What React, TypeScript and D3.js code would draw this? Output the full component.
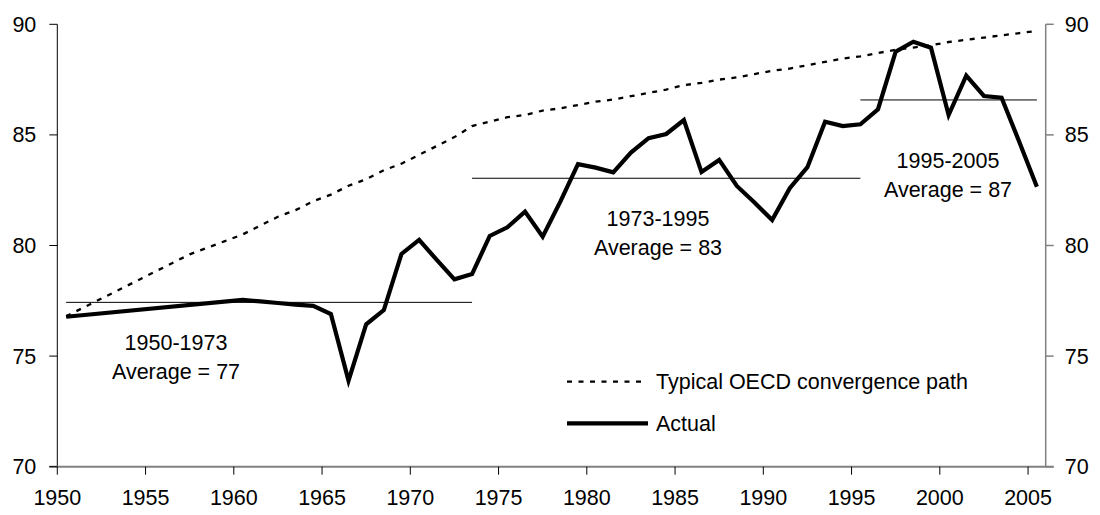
import React from "react";
import * as d3 from "d3";

const actualYears = [1950, 1960, 1961, 1962, 1963, 1964, 1965, 1966, 1967, 1968, 1969, 1970, 1971, 1972, 1973, 1974, 1975, 1976, 1977, 1978, 1979, 1980, 1981, 1982, 1983, 1984, 1985, 1986, 1987, 1988, 1989, 1990, 1991, 1992, 1993, 1994, 1995, 1996, 1997, 1998, 1999, 2000, 2001, 2002, 2003, 2004, 2005];
const actualValues = [76.78, 77.54, 77.47, 77.4, 77.33, 77.27, 76.9, 73.89, 76.44, 77.08, 79.62, 80.25, 79.35, 78.47, 78.71, 80.43, 80.82, 81.53, 80.4, 81.98, 83.68, 83.52, 83.31, 84.2, 84.85, 85.04, 85.67, 83.32, 83.87, 82.69, 81.94, 81.15, 82.59, 83.54, 85.6, 85.4, 85.48, 86.16, 88.76, 89.21, 88.94, 85.9, 87.68, 86.76, 86.68, 84.69, 82.66];

const oecdYears = [1950, 1951, 1952, 1953, 1954, 1955, 1956, 1957, 1958, 1959, 1960, 1961, 1962, 1963, 1964, 1965, 1966, 1967, 1968, 1969, 1970, 1971, 1972, 1973, 1974, 1975, 1976, 1977, 1978, 1979, 1980, 1981, 1982, 1983, 1984, 1985, 1986, 1987, 1988, 1989, 1990, 1991, 1992, 1993, 1994, 1995, 1996, 1997, 1998, 1999, 2000, 2001, 2002, 2003, 2004, 2005];
const oecdValues = [76.8, 77.2, 77.6, 78.0, 78.4, 78.8, 79.2, 79.6, 79.9, 80.2, 80.5, 80.9, 81.3, 81.6, 82.0, 82.3, 82.7, 83.0, 83.4, 83.7, 84.1, 84.5, 84.9, 85.4, 85.6, 85.8, 85.9, 86.1, 86.2, 86.35, 86.5, 86.6, 86.75, 86.9, 87.05, 87.25, 87.35, 87.5, 87.6, 87.75, 87.9, 88.0, 88.15, 88.3, 88.45, 88.55, 88.7, 88.85, 88.95, 89.05, 89.2, 89.3, 89.4, 89.5, 89.6, 89.7];

const periodStart = [1950, 1973, 1995];
const periodEnd = [1973, 1995, 2005];
const periodAverage = [77.43, 83.04, 86.58];
const periodLabel = ["1950-1973", "1973-1995", "1995-2005"];
const averageLabel = ["Average = 77", "Average = 83", "Average = 87"];

const xTicks = [1950, 1955, 1960, 1965, 1970, 1975, 1980, 1985, 1990, 1995, 2000, 2005];
const yTicks = [70, 75, 80, 85, 90];

const legendLabels = ["Typical OECD convergence path", "Actual"];

const W = 1100;
const H = 515;
const FONT = "'Liberation Sans', Arial, sans-serif";
const FS = 21.5;
const TFS = 21.5;

export default function App() {
  const x = d3.scaleLinear().domain([1950, 2006]).range([57.3, 1045.7]);
  const y = d3.scaleLinear().domain([70, 90]).range([466.7, 24.3]);
  const px = (yr: number) => x(yr + 0.5);

  const actualLine = d3
    .line<number>()
    .x((_, i) => px(actualYears[i]))
    .y((v) => y(v))(actualValues) as string;
  const oecdLine = d3
    .line<number>()
    .x((_, i) => px(oecdYears[i]))
    .y((v) => y(v))(oecdValues) as string;

  const left = x(1950);
  const right = x(2006);
  const bottom = y(70);
  const top = y(90);

  const labelPos = [
    { cx: 176, y1: 350 },
    { cx: 658, y1: 226 },
    { cx: 948, y1: 168 },
  ];

  return (
    <svg
      width={W}
      height={H}
      style={{ position: "absolute", left: 0, top: 0, background: "#fff" }}
      fontFamily={FONT}
    >
      {/* average lines */}
      {periodAverage.map((v, i) => (
        <line
          key={"avg" + i}
          x1={px(periodStart[i])}
          x2={px(periodEnd[i])}
          y1={y(v)}
          y2={y(v)}
          stroke="#000"
          strokeWidth={1}
        />
      ))}
      {/* OECD dashed */}
      <path d={oecdLine} fill="none" stroke="#000" strokeWidth={2.3} strokeDasharray="5,6.5" />
      {/* actual */}
      <path d={actualLine} fill="none" stroke="#000" strokeWidth={4.2} strokeLinejoin="miter" />

      {/* axes */}
      <line x1={left} x2={left} y1={top} y2={bottom} stroke="#000" strokeWidth={1} />
      <line x1={right} x2={right} y1={top} y2={bottom} stroke="#808080" strokeWidth={1.5} />
      <line x1={left - 8} x2={right + 8} y1={bottom} y2={bottom} stroke="#808080" strokeWidth={2} />
      {yTicks.map((t) => (
        <g key={"yt" + t}>
          <line x1={left - 8} x2={left} y1={y(t)} y2={y(t)} stroke="#000" strokeWidth={1} />
          <line x1={right} x2={right + 8} y1={y(t)} y2={y(t)} stroke="#808080" strokeWidth={1.5} />
          <text x={left - 21} y={y(t)} dy="0.35em" textAnchor="end" fontSize={TFS} fill="#000">
            {t}
          </text>
          <text x={right + 19} y={y(t)} dy="0.35em" textAnchor="start" fontSize={TFS} fill="#000">
            {t}
          </text>
        </g>
      ))}
      {xTicks.map((t) => (
        <g key={"xt" + t}>
          <line x1={x(t)} x2={x(t)} y1={bottom} y2={bottom + 8} stroke="#000" strokeWidth={1} />
          <text x={x(t)} y={bottom + 38} textAnchor="middle" fontSize={TFS} fill="#000">
            {t}
          </text>
        </g>
      ))}

      {/* period labels */}
      {labelPos.map((p, i) => (
        <g key={"lbl" + i}>
          <text x={p.cx} y={p.y1} textAnchor="middle" fontSize={FS} fill="#000">
            {periodLabel[i]}
          </text>
          <text x={p.cx} y={p.y1 + 29} textAnchor="middle" fontSize={FS} fill="#000">
            {averageLabel[i]}
          </text>
        </g>
      ))}

      {/* legend */}
      <line x1={567} x2={647} y1={381.7} y2={381.7} stroke="#000" strokeWidth={2.3} strokeDasharray="5,6.5" />
      <text x={656} y={381.7} dy="0.35em" fontSize={FS} fill="#000">
        {legendLabels[0]}
      </text>
      <line x1={567} x2={648} y1={423.3} y2={423.3} stroke="#000" strokeWidth={4.2} />
      <text x={656} y={423.3} dy="0.35em" fontSize={FS} fill="#000">
        {legendLabels[1]}
      </text>
    </svg>
  );
}
